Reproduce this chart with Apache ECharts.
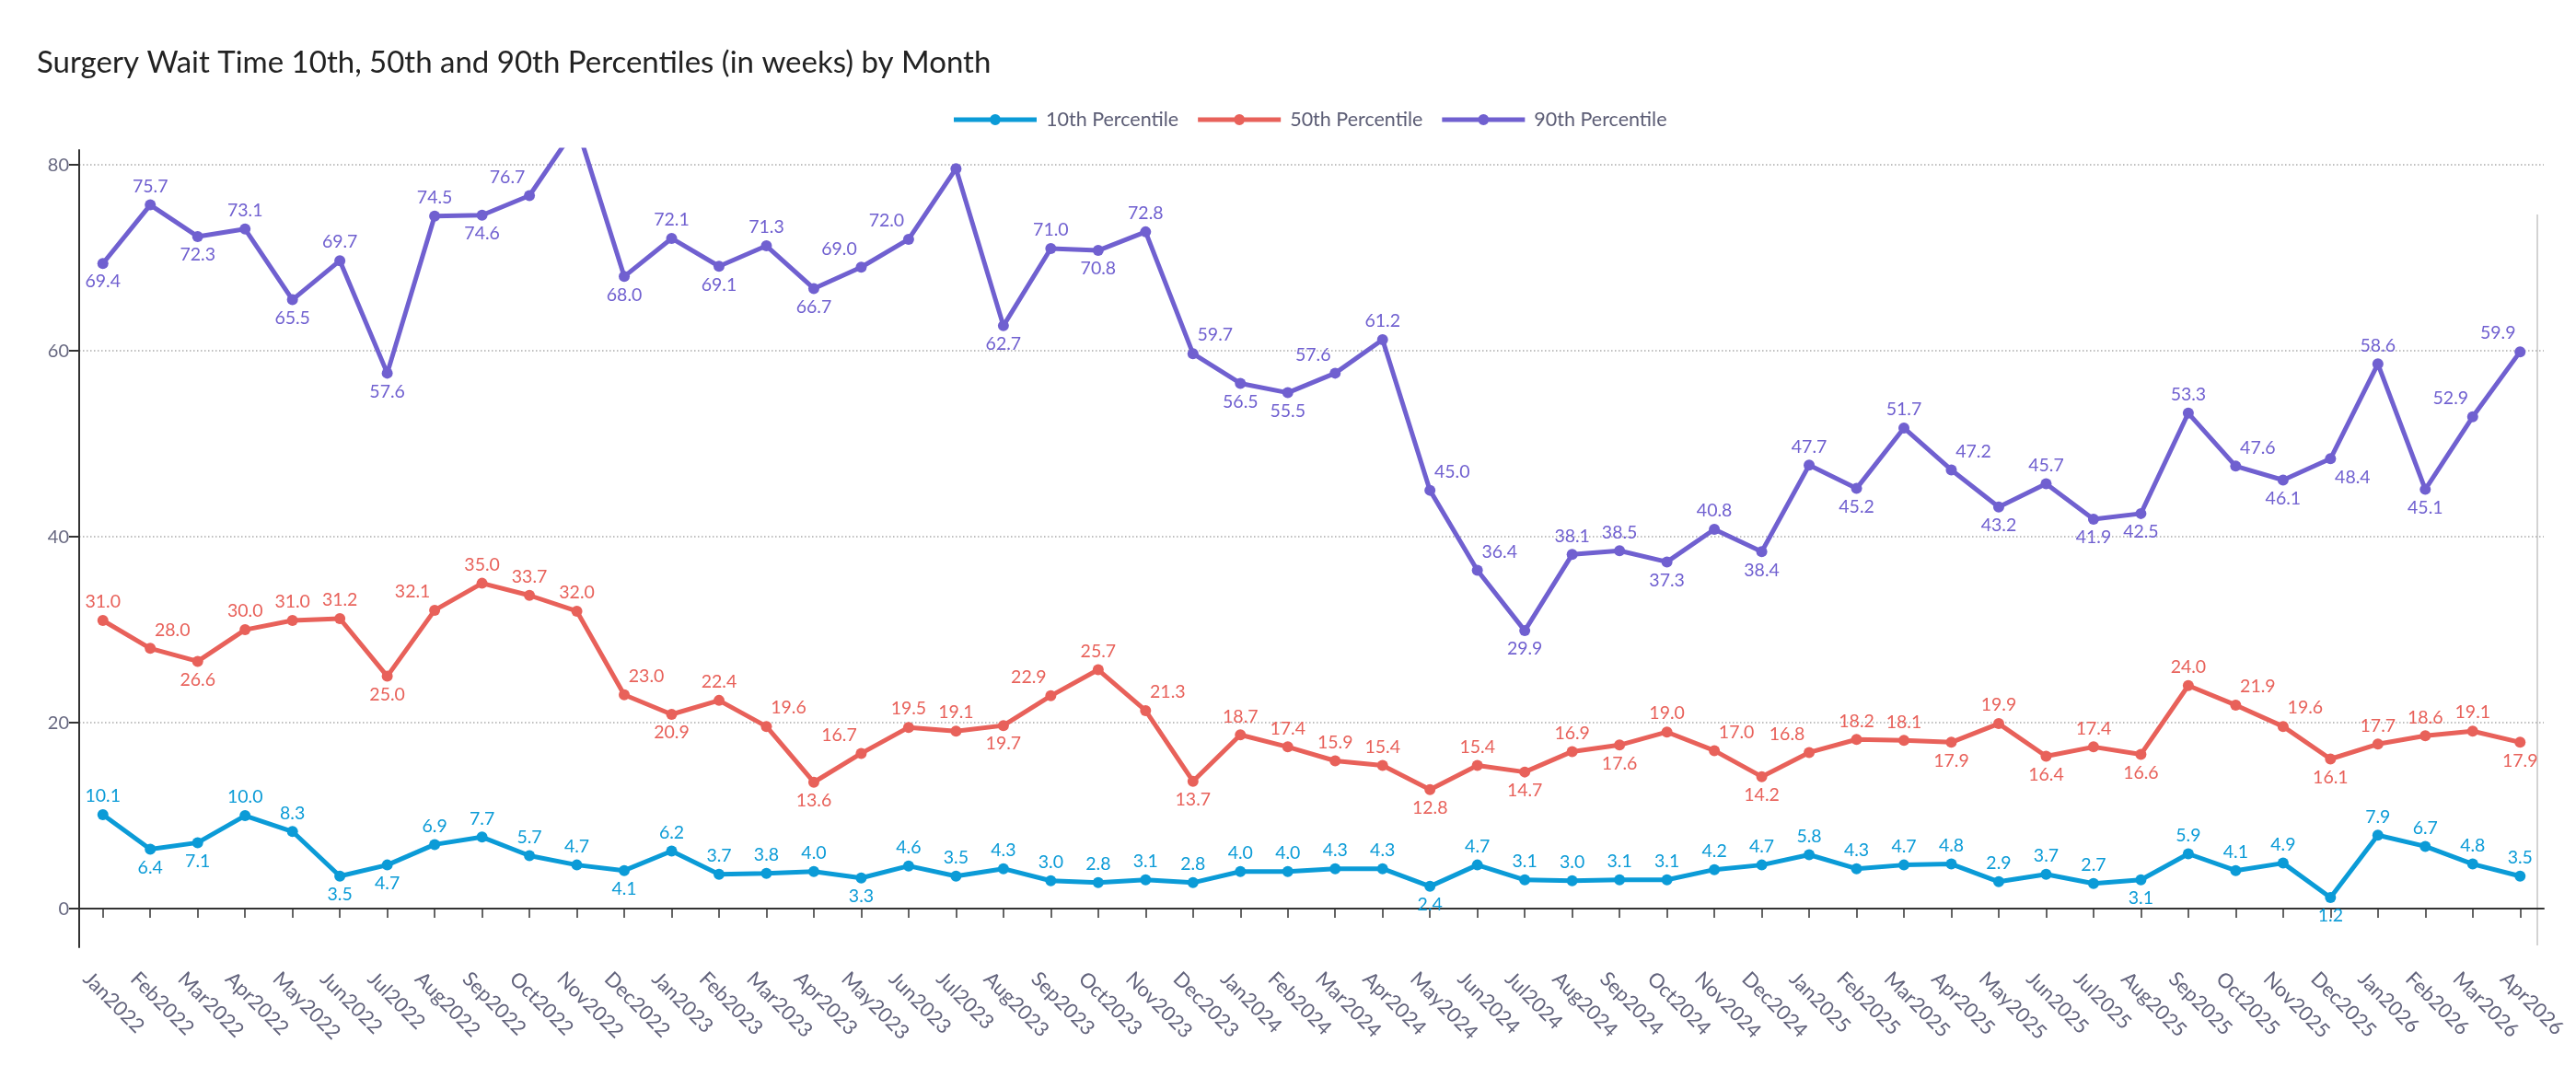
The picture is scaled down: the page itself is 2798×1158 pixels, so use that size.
<!DOCTYPE html>
<html>
<head>
<meta charset="utf-8">
<script src="https://cdn.jsdelivr.net/npm/echarts@6/dist/echarts.min.js"></script>
<style>
html,body{margin:0;padding:0;background:#fff;}
#chart{width:2798px;height:1158px;}
</style>
</head>
<body>
<div id="chart"></div>
<script>
const months = ['Jan2022','Feb2022','Mar2022','Apr2022','May2022','Jun2022','Jul2022','Aug2022','Sep2022','Oct2022','Nov2022','Dec2022',
'Jan2023','Feb2023','Mar2023','Apr2023','May2023','Jun2023','Jul2023','Aug2023','Sep2023','Oct2023','Nov2023','Dec2023',
'Jan2024','Feb2024','Mar2024','Apr2024','May2024','Jun2024','Jul2024','Aug2024','Sep2024','Oct2024','Nov2024','Dec2024',
'Jan2025','Feb2025','Mar2025','Apr2025','May2025','Jun2025','Jul2025','Aug2025','Sep2025','Oct2025','Nov2025','Dec2025',
'Jan2026','Feb2026','Mar2026','Apr2026'];

const p10 = [10.1,6.4,7.1,10.0,8.3,3.5,4.7,6.9,7.7,5.7,4.7,4.1,
6.2,3.7,3.8,4.0,3.3,4.6,3.5,4.3,3.0,2.8,3.1,2.8,
4.0,4.0,4.3,4.3,2.4,4.7,3.1,3.0,3.1,3.1,4.2,4.7,
5.8,4.3,4.7,4.8,2.9,3.7,2.7,3.1,5.9,4.1,4.9,1.2,
7.9,6.7,4.8,3.5];

const p50 = [31.0,28.0,26.6,30.0,31.0,31.2,25.0,32.1,35.0,33.7,32.0,23.0,
20.9,22.4,19.6,13.6,16.7,19.5,19.1,19.7,22.9,25.7,21.3,13.7,
18.7,17.4,15.9,15.4,12.8,15.4,14.7,16.9,17.6,19.0,17.0,14.2,
16.8,18.2,18.1,17.9,19.9,16.4,17.4,16.6,24.0,21.9,19.6,16.1,
17.7,18.6,19.1,17.9];

const p90 = [69.4,75.7,72.3,73.1,65.5,69.7,57.6,74.5,74.6,76.7,84.2,68.0,
72.1,69.1,71.3,66.7,69.0,72.0,79.6,62.7,71.0,70.8,72.8,59.7,
56.5,55.5,57.6,61.2,45.0,36.4,29.9,38.1,38.5,37.3,40.8,38.4,
47.7,45.2,51.7,47.2,43.2,45.7,41.9,42.5,53.3,47.6,46.1,48.4,
58.6,45.1,52.9,59.9];

const yTicks = [0,20,40,60,80];

// label placement codes (style): T top, B bottom, R top-right, L top-left, S bottom-right, X hidden
const side10 = 'TBBTTBBTTTTB' + 'TTTTBTTTTTTT' + 'TTTTBTTTTTTT' + 'TTTTTTTBTTTB' + 'TTTT';
const side50 = 'TRBTTTBLTTTR' + 'BTRBLTTBLTRB' + 'TTTTBTBTBTRB' + 'LTTBTBTBTRRB' + 'TTTB';
const side90 = 'BTBTBTBTBLXB' + 'TBTBLLXBTBTR' + 'BBLTRRBTTBTB' + 'TBTRBTBBTRBS' + 'TBLL';

const C10 = '#0b9bd7', C50 = '#e8615a', C90 = '#7060d0';
const FONT = 'Lato';
const LEGEND_ICON = 'path://M0,3.5 H90 V8.5 H0 Z M39,6 A6,6 0 1,1 51,6 A6,6 0 1,1 39,6 Z';

function buildData(vals, sides) {
  return vals.map((v, i) => {
    const s = sides[i];
    const lab = {};
    if (s === 'X') lab.show = false;
    else if (s === 'B') lab.position = 'bottom';
    else if (s === 'S') { lab.position = 'bottom'; lab.offset = [24, 0]; }
    else if (s === 'R') { lab.position = 'top'; lab.offset = [24, 0]; }
    else if (s === 'L') { lab.position = 'top'; lab.offset = [-24, 0]; }
    else lab.position = 'top';
    return { value: v, label: lab };
  });
}

function mkSeries(name, vals, sides, color) {
  return {
    name: name,
    type: 'line',
    data: buildData(vals, sides),
    symbol: 'circle',
    symbolSize: 12,
    clip: true,
    color: color,
    lineStyle: { width: 5, color: color },
    itemStyle: { color: color },
    label: {
      show: true,
      distance: 4,
      fontFamily: FONT,
      fontSize: 19.5,
      color: color,
      formatter: p => Number(p.value).toFixed(1)
    },
    emphasis: { disabled: true },
    animation: false
  };
}

const chart = echarts.init(document.getElementById('chart'), null, { renderer: 'canvas' });
chart.setOption({
  backgroundColor: '#ffffff',
  animation: false,
  title: {
    text: 'Surgery Wait Time 10th, 50th and 90th Percentiles (in weeks) by Month',
    left: 40,
    top: 52,
    padding: 0,
    textStyle: { fontFamily: FONT, fontSize: 33, fontWeight: 'normal', color: '#222222' }
  },
  legend: {
    top: 114,
    left: 1031,
    itemWidth: 90,
    itemHeight: 12,
    itemGap: 21,
    icon: LEGEND_ICON,
    textStyle: { fontFamily: FONT, fontSize: 21.5, color: '#5c5d75', padding: [0, 0, 0, 5] },
    data: ['10th Percentile', '50th Percentile', '90th Percentile']
  },
  grid: { left: 86, right: 35, top: 163, bottom: 129, containLabel: false },
  xAxis: {
    type: 'category',
    data: months,
    boundaryGap: true,
    axisLine: { show: true, lineStyle: { color: '#333333', width: 2 } },
    axisTick: { show: true, alignWithLabel: true, length: 10, lineStyle: { color: '#333333', width: 1.5 } },
    axisLabel: { interval: 0, rotate: -45, margin: 13, verticalAlign: 'top', padding: [14, 0, 0, 0],
      fontFamily: FONT, fontSize: 22, color: '#62637c' },
    splitLine: { show: false }
  },
  yAxis: {
    type: 'value',
    min: -4.15,
    max: 81.6,
    splitNumber: 4,
    axisLine: { show: true, lineStyle: { color: '#333333', width: 2 } },
    axisTick: { show: true, length: 11, lineStyle: { color: '#333333', width: 2 }, customValues: yTicks },
    axisLabel: { margin: 11, fontFamily: FONT, fontSize: 20, color: '#676880', customValues: yTicks },
    splitLine: { show: true, lineStyle: { type: [1.5, 2.5], color: '#ababab', width: 1.5 } }
  },
  graphic: [{
    type: 'line',
    silent: true,
    shape: { x1: 2756, y1: 233, x2: 2756, y2: 1027 },
    style: { stroke: '#c4c4c4', lineWidth: 1.5 }
  }],
  series: [
    mkSeries('10th Percentile', p10, side10, C10),
    mkSeries('50th Percentile', p50, side50, C50),
    mkSeries('90th Percentile', p90, side90, C90)
  ]
});
</script>
</body>
</html>
